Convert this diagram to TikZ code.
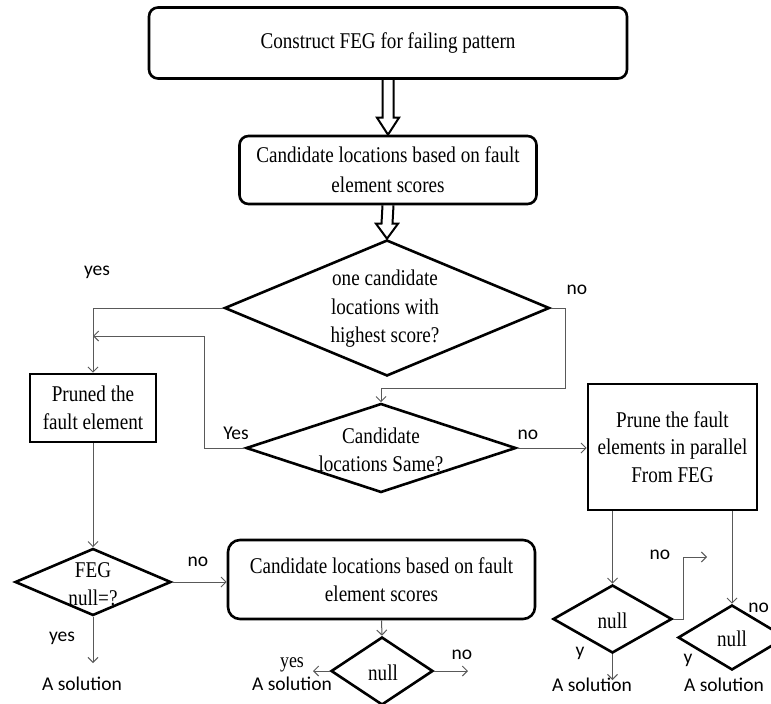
\documentclass[tikz,border=0pt]{standalone}
\usepackage{fontspec}
\setmainfont[FakeStretch=0.85]{Liberation Serif}
\newfontfamily\calib{Carlito}
\usetikzlibrary{shapes.geometric,arrows.meta,calc}
\tikzset{
  outl/.style={draw=black, line width=2.6pt},
  sbox/.style={outl, align=center, inner sep=0pt, font=\fontsize{22.5}{28.5}\selectfont},
  rbox/.style={sbox, rounded corners=9pt},
  dia/.style={outl, diamond, inner sep=0pt},
  txt/.style={align=center, inner sep=0pt, font=\fontsize{22.5}{28.5}\selectfont},
  lbl/.style={inner sep=0pt, font=\calib\fontsize{19.5}{21}\selectfont},
  conn/.style={draw=black!65, line width=1pt, -{Straight Barb[length=5pt,width=10pt]}},
  harrow/.style={draw=black, line width=2pt, line join=miter},
}
\begin{document}
\begin{tikzpicture}[x=1pt,y=-1pt]
\useasboundingbox (0,0) rectangle (771,704);
\clip (0,0) rectangle (771,704);
\fill[white] (0,0) rectangle (771,704);

% boxes
\node[rbox, minimum width=478pt, minimum height=71pt] (top) at (388,43) {Construct FEG for failing pattern};
\node[rbox, minimum width=297pt, minimum height=68pt, font=\fontsize{22.5}{30}\selectfont] (box2) at (388,170) {Candidate locations based on fault\\element scores};

% diamond 1
\node[dia, minimum width=325pt, minimum height=136pt] (d1) at (387,308) {};
\node[txt] (d1t) at (385,309) {one candidate\\locations with\\highest score?};

% diamond 2
\node[dia, minimum width=270pt, minimum height=89pt] (d2) at (381,448) {};
\node[txt] (d2t) at (381,450) {Candidate\\locations Same?};

% side boxes
\node[sbox, minimum width=126pt, minimum height=68pt] (pruned) at (93,408) {Pruned the\\fault element};
\node[sbox, minimum width=169pt, minimum height=126pt, font=\fontsize{22.5}{27.5}\selectfont] (prune) at (672.5,447) {Prune the fault\\elements in parallel\\From FEG};

% FEG diamond
\node[dia, minimum width=156pt, minimum height=67pt] (feg) at (93,582) {};
\node[txt, font=\fontsize{22.5}{28}\selectfont] (fegt) at (93,584) {FEG\\null=?};

% box 3
\node[rbox, minimum width=307pt, minimum height=79pt, rounded corners=12pt, font=\fontsize{22.5}{28}\selectfont] (box3) at (381.5,579.5) {Candidate locations based on fault\\element scores};

% null diamonds
\node[dia, minimum width=102pt, minimum height=68pt] (d3) at (382,671) {};
\node[txt] (d3t) at (383,673) {null};
\node[dia, minimum width=119pt, minimum height=68pt] (d4) at (612.5,619) {};
\node[txt] (d4t) at (612.5,621) {null};
\node[dia, minimum width=108pt, minimum height=65pt] (d5) at (732,637.5) {};
\node[txt] (d5t) at (732,639) {null};

% hollow double arrows
\draw[harrow] ($(top.south)+(-5.5,0)$) -- ($(box2.north)+(-5.5,-17)$) -- ($(box2.north)+(-11,-17)$) -- (box2.north) -- ($(box2.north)+(11,-17)$) -- ($(box2.north)+(5.5,-17)$) -- ($(top.south)+(5.5,0)$);
\draw[harrow] ($(box2.south)+(-5.5,0)$) -- ($(d1.north)+(-5.5,-15)$) -- ($(d1.north)+(-11,-15)$) -- (d1.north) -- ($(d1.north)+(11,-15)$) -- ($(d1.north)+(5.5,-15)$) -- ($(box2.south)+(5.5,0)$);

% coordinates
\coordinate (n1) at (565,388);
\coordinate (y2) at (204,336);
\coordinate (s1a) at (93,663);
\coordinate (s2a) at (313,671);
\coordinate (n3) at (468,671);
\coordinate (s4a) at (612.5,680);
\coordinate (n4a) at (683,557);
\coordinate (n4b) at (707,557);

% connectors
\draw[conn] (d1.west) -| (pruned.north);
\draw[conn] (d1.east) -| (n1) -| (d2.north);
\draw[conn] (d2.west) -| (y2) -- (y2 -| pruned.north);
\draw[conn] (d2.east) -- (d2.east -| prune.west);
\draw[conn] (pruned.south) -- (feg.north);
\draw[conn] (feg.east) -- (feg.east -| box3.west);
\draw[conn] (feg.south) -- (s1a);
\draw[conn] (box3.south) -- (d3.north);
\draw[conn] (d3.west) -- (s2a);
\draw[conn] (d3.east) -- (n3);
\draw[conn] (d4.north |- prune.south) -- (d4.north);
\draw[conn] (d5.north |- prune.south) -- (d5.north);
\draw[conn] (d4.east) -| (n4a) -- (n4b);
\draw[conn] (d4.south) -- (s4a);

% labels
\node[lbl] (l1) at (97,272) {yes};
\node[lbl] (l2) at (577,290) {no};
\node[lbl] (l3) at (236,433) {Yes};
\node[lbl] (l4) at (528,435) {no};
\node[lbl] (l5) at (198,562) {no};
\node[lbl] (l6) at (62,638) {yes};
\node[lbl] (a1) at (82,684) {A solution};
\node[txt, font=\fontsize{21}{22}\selectfont] (l7) at (292,665) {yes};
\node[lbl] (a2) at (292,684) {A solution};
\node[lbl] (l8) at (462,655) {no};
\node[lbl] (l9) at (660,555) {no};
\node[lbl] (l10) at (580,653) {y};
\node[lbl] (a3) at (592,685) {A solution};
\node[lbl, anchor=east] (l11) at (769,608) {no};
\node[lbl] (l12) at (688,660) {y};
\node[lbl] (a4) at (724,685) {A solution};
\end{tikzpicture}
\end{document}
